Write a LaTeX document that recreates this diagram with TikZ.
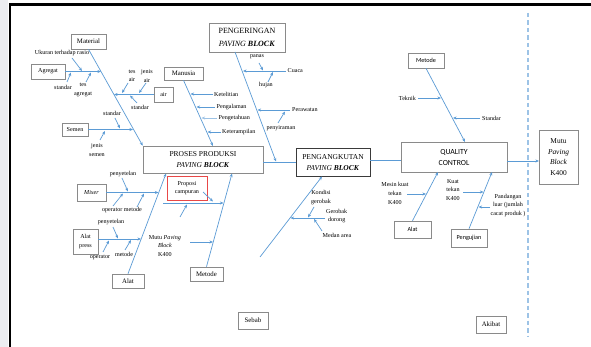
\documentclass[tikz,border=0pt]{standalone}
\usepackage{fontspec}
\setmainfont{Liberation Serif}
\setsansfont{Carlito}
\usetikzlibrary{arrows.meta}
\definecolor{arrowblue}{HTML}{5B9BD5}
\definecolor{paleblue}{HTML}{9DC3E6}
\definecolor{boxgray}{HTML}{8A8A8A}
\definecolor{boxdark}{HTML}{3A3A3A}
\definecolor{redline}{HTML}{E84848}
\definecolor{stripgray}{HTML}{ECEDF1}
\tikzset{
  box/.style={draw=boxgray, line width=0.6pt, fill=white, inner sep=0pt, align=center},
  bigtxt/.style={font=\fontsize{7.5}{11.5}\selectfont},
  midtxt/.style={font=\fontsize{6.8}{9}\selectfont},
  smalltxt/.style={font=\fontsize{6.1}{8.6}\selectfont},
  sanstxt/.style={font=\sffamily\fontsize{6.2}{8.6}\selectfont},
  lbl/.style={smalltxt, align=center, inner sep=0pt},
  br/.style={draw=arrowblue, line width=0.7pt, -{Stealth[length=3.6pt,width=3pt]}},
  trunk/.style={draw=arrowblue, line width=0.9pt},
}
\begin{document}
\begin{tikzpicture}[x=1pt,y=-1pt]
\useasboundingbox (0,0) rectangle (591,347);
% page edge and frame
\fill[white] (0,0) rectangle (591,347);
\fill[stripgray] (0,0) rectangle (8,347);
\fill[black] (9,3.2) rectangle (591,5.8);
\fill[black] (9,3.2) rectangle (11,347);

% ---------- boxes ----------
\node[box, midtxt, minimum width=35pt, minimum height=15pt] (material) at (88.5,41.5) {Material};
\node[box, smalltxt, minimum width=34pt, minimum height=15pt] (agregat) at (48,71.5) {Agregat};
\node[box, smalltxt, minimum width=19pt, minimum height=15pt] (air) at (163.5,94.5) {air};
\node[box, smalltxt, minimum width=26pt, minimum height=13pt] (semen) at (75,129.5) {Semen};
\node[box, midtxt, minimum width=39pt, minimum height=13pt] (manusia) at (183.5,73.5) {Manusia};
\node[box, bigtxt, font=\fontsize{8}{13}\selectfont, minimum width=76pt, minimum height=29pt] (pengeringan) at (247,37.5) {PENGERINGAN\\\textit{PAVING \textbf{BLOCK}}};
\node[box, bigtxt, minimum width=120pt, minimum height=27pt] (proses) at (203,159.5) {PROSES PRODUKSI\\\textit{PAVING \textbf{BLOCK}}};
\node[box, bigtxt, draw=boxdark, line width=0.8pt, minimum width=74pt, minimum height=28pt] (pengangkutan) at (333,162.5) {PENGANGKUTAN\\\textit{PAVING \textbf{BLOCK}}};
\node[box, font=\sffamily\fontsize{7.8}{11}\selectfont, minimum width=106pt, minimum height=30pt] (qc) at (454,157) {QUALITY\\CONTROL};
\node[box, font=\fontsize{7.4}{10.5}\selectfont, minimum width=39pt, minimum height=54pt] (mutu) at (558.5,157) {Mutu\\\textit{Paving}\\\textit{Block}\\K400};
\node[box, sanstxt, minimum width=36pt, minimum height=15pt] (metodeR) at (426,60.5) {Metode};
\node[box, sanstxt, minimum width=37pt, minimum height=17pt] (alatR) at (412.5,229.5) {Alat};
\node[box, sanstxt, minimum width=36pt, minimum height=18pt] (pengujian) at (469,238) {Pengujian};
\node[box, smalltxt, minimum width=29pt, minimum height=17pt] (mixer) at (91.5,192.5) {\textit{Mixer}};
\node[box, smalltxt, minimum width=25pt, minimum height=25pt] (alatpress) at (85.5,241.5) {Alat\\press};
\node[box, midtxt, minimum width=32pt, minimum height=14pt] (alatB) at (128,281) {Alat};
\node[box, midtxt, minimum width=33pt, minimum height=14pt] (metodeB) at (206.5,274) {Metode};
\node[box, smalltxt, draw=redline, line width=0.8pt, minimum width=40pt, minimum height=24pt] (proposi) at (187,188) {Proposi\\campuran};
\node[box, midtxt, minimum width=30pt, minimum height=17pt] (sebab) at (253,320.5) {Sebab};
\node[box, midtxt, minimum width=30pt, minimum height=17pt] (akibat) at (491,324.5) {Akibat};

% ---------- labels ----------
\node[lbl] (t-ukuran) at (62,53) {Ukuran terhadap rasio};
\node[lbl] (t-stdagr) at (63,87) {standar};
\node[lbl] (t-tesagr) at (83,90) {tes\\agregat};
\node[lbl] (t-tesair) at (132,76) {tes\\air};
\node[lbl] (t-jenisair) at (147,76) {jenis\\air};
\node[lbl] (t-stdair) at (140,107) {standar};
\node[lbl] (t-stdsemen) at (112,113) {standar};
\node[lbl] (t-jenissemen) at (97,150) {jenis\\semen};
\node[lbl, anchor=west] (t-ketelitian) at (214,94) {Ketelitian};
\node[lbl, anchor=west] (t-pengalaman) at (216.5,107) {Pengalaman};
\node[lbl, anchor=west] (t-pengetahuan) at (218.5,118) {Pengetahuan};
\node[lbl, anchor=west] (t-keterampilan) at (222,132) {Keterampilan};
\node[lbl] (t-panas) at (257,57) {panas};
\node[lbl, anchor=west] (t-cuaca) at (287.5,71) {Cuaca};
\node[lbl] (t-hujan) at (266,85) {hujan};
\node[lbl, anchor=west] (t-perawatan) at (292,110) {Perawatan};
\node[lbl] (t-penyiraman) at (281,128) {penyiraman};
\node[lbl, anchor=east] (t-teknik) at (416,98) {Teknik};
\node[lbl, anchor=west] (t-standarR) at (482,118) {Standar};
\node[lbl] (t-mesin) at (395,193.5) {Mesin kuat\\tekan\\K400};
\node[lbl] (t-kuat) at (453,190) {Kuat\\tekan\\K400};
\node[lbl] (t-pandangan) at (508,205.5) {Pandangan\\luar (jumlah\\cacat produk )};
\node[lbl] (t-kondisi) at (321,197.5) {Kondisi\\gerobak};
\node[lbl, anchor=west] (t-gerobak) at (326,216) {Gerobak\\dorong};
\node[lbl] (t-medan) at (337,235) {Medan area};
\node[lbl] (t-penyetelan1) at (123,174) {penyetelan};
\node[lbl] (t-opmetode) at (122,210.5) {operator metode};
\node[lbl] (t-penyetelan2) at (111,222) {penyetelan};
\node[lbl] (t-operator2) at (100,257) {operator};
\node[lbl] (t-metode2) at (124,254) {metode};
\node[lbl] (t-mutuK) at (165,246) {Mutu \textit{Paving}\\\textit{Block}\\K400};

% ---------- spine end points ----------
\coordinate (man-end) at (213,146);
\coordinate (pg-start) at (235,52);
\coordinate (pg-end) at (276,161.5);
\coordinate (qc-in) at (401,160);
\coordinate (mutu-in) at (539,161);
\coordinate (qc-top) at (465,142);
\coordinate (qc-bl) at (438,172);
\coordinate (qc-br) at (492,172);
\coordinate (pa-start) at (260,257);
\coordinate (pa-end) at (322,176.5);
\coordinate (pb-a) at (166,173.5);
\coordinate (pb-m) at (232,173.5);
\coordinate (c-agr) at (101,71.5);
\coordinate (c-air) at (114,94.5);
\coordinate (c-sem) at (133,129.5);
\coordinate (c-mix) at (158.5,192.5);
\coordinate (dash-top) at (528,13);
\coordinate (dash-bot) at (528,336);

% ---------- sub-cause arrow ends ----------
\coordinate (s1) at (72,58);     \coordinate (e1) at (82,71);
\coordinate (s2) at (67,82);     \coordinate (e2) at (71,72.5);
\coordinate (s3) at (86,82);     \coordinate (e3) at (91,72.5);
\coordinate (s4) at (128,83);    \coordinate (e4) at (122,93);
\coordinate (s5) at (146,83);    \coordinate (e5) at (139,93);
\coordinate (s6) at (137,103);   \coordinate (e6) at (130,95.5);
\coordinate (s7) at (115,118);   \coordinate (e7) at (120,128.5);
\coordinate (s8) at (100,140);   \coordinate (e8) at (105,131);
\coordinate (s9) at (213,94);    \coordinate (e9) at (190.5,94);
\coordinate (s10) at (215,107);  \coordinate (e10) at (196.5,107);
\coordinate (s11) at (217,118);  \coordinate (e11) at (201.5,118);
\coordinate (s12) at (221,132);  \coordinate (e12) at (207.5,132);
\coordinate (s13) at (286,71);   \coordinate (e13) at (243,71);
\coordinate (s14) at (259,63);   \coordinate (e14) at (263,70.5);
\coordinate (s15) at (268,82);   \coordinate (e15) at (273,72);
\coordinate (s16) at (290,110);  \coordinate (e16) at (257.5,110);
\coordinate (s17) at (278,123);  \coordinate (e17) at (285,111.5);
\coordinate (s18) at (418,98);   \coordinate (e18) at (441,98);
\coordinate (s19) at (480,118);  \coordinate (e19) at (453,118);
\coordinate (s20) at (407,194);  \coordinate (e20) at (426,194);
\coordinate (s21) at (463,192);  \coordinate (e21) at (483.5,192);
\coordinate (s22) at (490,207);  \coordinate (e22) at (478.5,207);
\coordinate (s23) at (325,218);  \coordinate (e23) at (290.5,218);
\coordinate (s24) at (314,207);  \coordinate (e24) at (308,217.5);
\coordinate (s25) at (322,231);  \coordinate (e25) at (314,219);
\coordinate (s26) at (122,178);  \coordinate (e26) at (128,191.5);
\coordinate (s27) at (113,206);  \coordinate (e27) at (123,193.5);
\coordinate (s28) at (137,207);  \coordinate (e28) at (144,193.5);
\coordinate (s29) at (113,227);  \coordinate (e29) at (118,238.5);
\coordinate (s30) at (103,252);  \coordinate (e30) at (109,240.5);
\coordinate (s31) at (125,250);  \coordinate (e31) at (131,240);
\coordinate (s32) at (163,203);  \coordinate (e32) at (223.5,203);
\coordinate (s33) at (203,192);  \coordinate (e33) at (213,201.5);
\coordinate (s34) at (180,217);  \coordinate (e34) at (187,204.5);
\coordinate (s35) at (190,242);  \coordinate (e35) at (213,242);
\coordinate (s36) at (98,239);   \coordinate (e36) at (141,239);

% ---------- cause/effect divider ----------
\draw[paleblue, line width=1.6pt, dash pattern=on 4.5pt off 3pt] (dash-top) -- (dash-bot);

% ---------- main spines ----------
\draw[br] (material.south) -- (proses.north west);
\draw[br] (manusia.south) -- (man-end);
\draw[br] (pg-start) -- (pg-end);
\draw[trunk] (proses.east |- pengangkutan.west) -- (pengangkutan.west);
\draw[trunk] (pengangkutan.east |- qc-in) -- (qc-in);
\draw[br] (qc.east |- mutu-in) -- (mutu-in);
\draw[br] (metodeR.south) -- (qc-top);
\draw[br] (alatR.north) -- (qc-bl);
\draw[br] (pengujian.north) -- (qc-br);
\draw[br] (pa-start) -- (pa-end);
\draw[br] (alatB.north) -- (pb-a);
\draw[br] (metodeB.north) -- (pb-m);

% ---------- cause boxes feeding spines ----------
\draw[br] (agregat.east) -- (c-agr);
\draw[br] (air.west) -- (c-air);
\draw[br] (semen.east) -- (c-sem);
\draw[br] (mixer.east) -- (c-mix);

% ---------- sub-cause arrows ----------
\foreach \i in {1,...,10,12,13,...,36} \draw[br] (s\i) -- (e\i);
\draw[br, draw=paleblue] (s11) -- (e11);
\end{tikzpicture}
\end{document}
